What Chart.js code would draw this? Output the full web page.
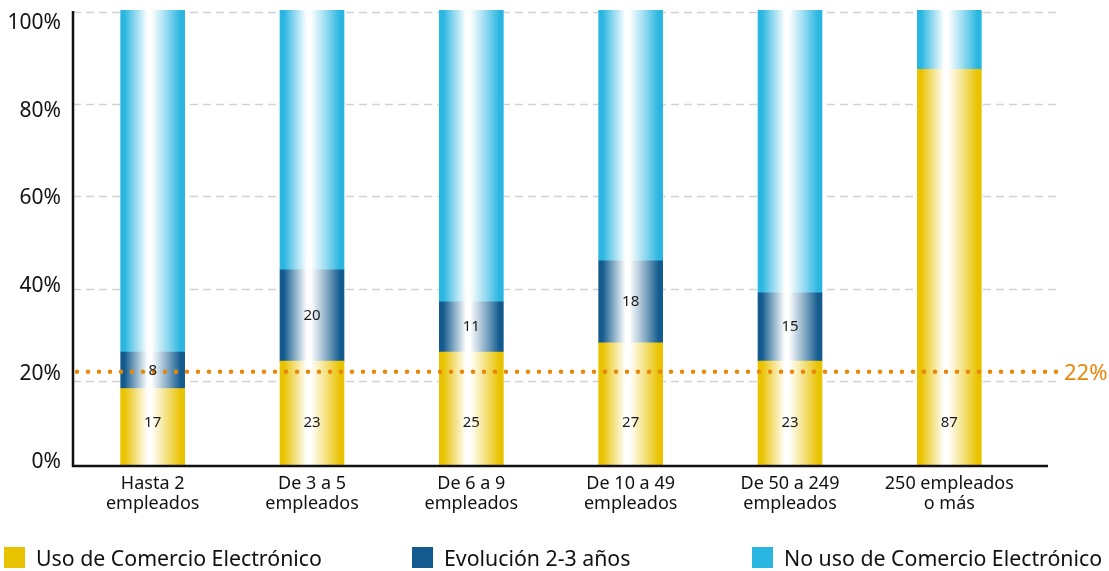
<!DOCTYPE html>
<html>
<head>
<meta charset="utf-8">
<script src="https://cdn.jsdelivr.net/npm/chart.js@4.4.1/dist/chart.umd.min.js"></script>
<style>
  body { margin: 0; background: #fff; font-family: "Noto Sans", sans-serif; }
  #wrap { position: relative; width: 1109px; height: 571px; }
  #legend { position: absolute; left: 0; top: 544px; width: 1109px; height: 26px; }
  .item { position: absolute; top: 0; display: flex; align-items: center; font-size: 21.3px; color: #111; white-space: nowrap; height: 26px; }
  .box { width: 21px; height: 21px; margin-right: 11px; }
</style>
</head>
<body>
<div id="wrap">
  <canvas id="chart" width="1109" height="571"></canvas>
  <div id="legend"></div>
</div>
<script>
// datos
const categorias = [
    ['Hasta 2', 'empleados'],
    ['De 3 a 5', 'empleados'],
    ['De 6 a 9', 'empleados'],
    ['De 10 a 49', 'empleados'],
    ['De 50 a 249', 'empleados'],
    ['250 empleados', 'o más']
];
const usoComercio = [17, 23, 25, 27, 23, 87];
const evolucion = [8, 20, 11, 18, 15, 0];
const noUso = [75, 57, 64, 55, 62, 13];
const mediaTotal = 22;
const yTicks = [0, 20, 40, 60, 80, 100];

const colores = ['#E9C200', '#135B8E', '#29B6E1'];
const nombres = ['Uso de Comercio Electrónico', 'Evolución 2-3 años', 'No uso de Comercio Electrónico'];
const legendLeft = [4, 412, 752];
const BAR_W = 64;

function mezcla(hex, t) {
    // t = 0 -> color, t = 1 -> blanco
    const r = parseInt(hex.slice(1, 3), 16), g = parseInt(hex.slice(3, 5), 16), b = parseInt(hex.slice(5, 7), 16);
    const f = c => Math.round(c + (255 - c) * t);
    return `rgb(${f(r)},${f(g)},${f(b)})`;
}

function degradado(color) {
    return function (context) {
        const chart = context.chart;
        if (!chart.chartArea || context.dataIndex === undefined) return color;
        const x = chart.scales.x.getPixelForValue(context.dataIndex);
        const g = chart.ctx.createLinearGradient(x - BAR_W / 2, 0, x + BAR_W / 2, 0);
        g.addColorStop(0, color);
        g.addColorStop(0.06, color);
        g.addColorStop(0.2, mezcla(color, 0.4));
        g.addColorStop(0.42, '#ffffff');
        g.addColorStop(0.48, '#ffffff');
        g.addColorStop(0.7, mezcla(color, 0.55));
        g.addColorStop(0.94, color);
        g.addColorStop(1, color);
        return g;
    };
}

// líneas de fondo, ejes, línea media y etiquetas
const extras = {
    id: 'extras',
    beforeDatasetsDraw(chart) {
        const { ctx, chartArea, scales: { yg } } = chart;
        ctx.save();
        ctx.strokeStyle = '#d2d2d2';
        ctx.lineWidth = 1.5;
        ctx.setLineDash([8, 5]);
        yTicks.forEach(v => {
            if (v === 0) return;
            const py = Math.round(yg.getPixelForValue(v)) + 0.5;
            ctx.beginPath();
            ctx.moveTo(chartArea.left, py);
            ctx.lineTo(1057, py);
            ctx.stroke();
        });
        ctx.restore();
    },
    afterDatasetsDraw(chart) {
        const { ctx, chartArea, scales: { x, y, yg } } = chart;
        ctx.save();
        // ejes
        ctx.strokeStyle = '#111';
        ctx.lineWidth = 2.5;
        const y0 = y.getPixelForValue(0);
        ctx.beginPath();
        ctx.moveTo(chartArea.left, y.getPixelForValue(100) + 1);
        ctx.lineTo(chartArea.left, y0);
        ctx.lineTo(1048, y0);
        ctx.stroke();

        // línea media
        const ym = yg.getPixelForValue(mediaTotal);
        ctx.strokeStyle = '#E8870A';
        ctx.lineWidth = 4.5;
        ctx.lineCap = 'round';
        ctx.setLineDash([0, 11]);
        ctx.beginPath();
        ctx.moveTo(chartArea.left + 4, ym);
        ctx.lineTo(1057, ym);
        ctx.stroke();
        ctx.setLineDash([]);
        ctx.fillStyle = '#E8870A';
        ctx.font = '22px "Noto Sans"';
        ctx.textAlign = 'left';
        ctx.textBaseline = 'middle';
        ctx.fillText(mediaTotal + '%', 1064, ym + 2);

        // valores
        ctx.fillStyle = '#1a1a1a';
        ctx.font = '15px "Noto Sans"';
        ctx.textAlign = 'center';
        usoComercio.forEach((v, i) => {
            ctx.fillText(v, x.getPixelForValue(i), y.getPixelForValue(9.5));
        });
        evolucion.forEach((v, i) => {
            if (!v) return;
            ctx.fillText(v, x.getPixelForValue(i), y.getPixelForValue(usoComercio[i] + v / 2));
        });
        ctx.restore();
    }
};

const series = [usoComercio, evolucion, noUso];

new Chart(document.getElementById('chart'), {
    type: 'bar',
    data: {
        labels: categorias,
        datasets: series.map((d, i) => ({
            label: nombres[i],
            data: d,
            backgroundColor: degradado(colores[i]),
            borderWidth: 0,
            barThickness: BAR_W
        }))
    },
    options: {
        responsive: false,
        animation: false,
        layout: { padding: { top: 10, right: 80, left: 0, bottom: 0 } },
        scales: {
            x: {
                stacked: true,
                grid: { display: false },
                border: { display: false },
                ticks: {
                    color: '#111',
                    font: { family: 'Noto Sans', size: 18, lineHeight: 1.12 },
                    padding: 0,
                    maxRotation: 0
                },
                afterFit(scale) {
                    scale.height = 105;
                    scale.paddingLeft = 0;
                    scale.paddingRight = 0;
                }
            },
            // escala de las barras
            y: {
                stacked: true,
                min: 0,
                max: 100,
                display: false
            },
            // escala de las etiquetas del eje (desplazadas como en el original)
            yl: {
                position: 'left',
                min: -0.98,
                max: 102.9,
                grid: { display: false, drawTicks: false },
                border: { display: false },
                afterBuildTicks(scale) {
                    scale.ticks = yTicks.map(v => ({ value: v }));
                },
                ticks: {
                    color: '#111',
                    padding: 12,
                    font: { family: 'Noto Sans', size: 21 },
                    callback: v => v + '%'
                },
                afterFit(scale) {
                    scale.width = 73;
                    scale.paddingTop = 0;
                    scale.paddingBottom = 0;
                }
            },
            // escala de la rejilla y de la línea media
            yg: {
                position: 'left',
                min: 1.57,
                max: 100.37,
                display: false
            }
        },
        plugins: {
            legend: { display: false },
            tooltip: { enabled: false }
        }
    },
    plugins: [extras]
});

// leyenda
const leyenda = document.getElementById('legend');
nombres.forEach((n, i) => {
    const item = document.createElement('div');
    item.className = 'item';
    item.style.left = legendLeft[i] + 'px';
    item.innerHTML = `<span class="box" style="background:${colores[i]}"></span><span>${n}</span>`;
    leyenda.appendChild(item);
});
</script>
</body>
</html>
